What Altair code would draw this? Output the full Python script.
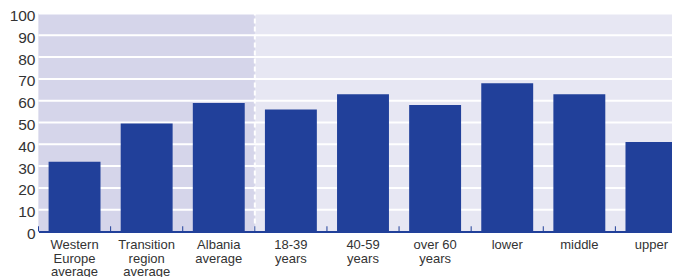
import altair as alt
import pandas as pd

categories = ["Western|Europe|average", "Transition|region|average", "Albania|average",
              "18-39|years", "40-59|years", "over 60|years", "lower", "middle", "upper"]
values = [32, 49.5, 59, 56, 63, 58, 68, 63, 41]
y_ticks = list(range(0, 101, 10))

df = pd.DataFrame({"cat": categories, "value": values})
grid_df = pd.DataFrame({"y": y_ticks})
shade_df = pd.DataFrame({"start": [categories[0]], "end": [categories[3]], "lo": [0], "hi": [100]})

BAR = "#21409A"
SHADE = "#D5D5EA"
# band range runs slightly past the visible plot edge, as in the (cropped) original
xscale = alt.Scale(domain=categories, paddingInner=0, paddingOuter=0, range=[0, 649])
yscale = alt.Scale(domain=[0, 100], nice=False)

xaxis = alt.Axis(title=None, labelExpr="split(datum.value, '|')", labelAngle=0,
                 labelFont="Liberation Sans", labelFontSize=13, labelColor="#333333",
                 labelLineHeight=13.5, labelPadding=7, ticks=False, domainColor=BAR,
                 domainWidth=2, grid=False, labelBaseline="top", labelOverlap=False)
yaxis = alt.Axis(title=None, values=y_ticks, labelFont="Liberation Sans", labelFontSize=15.5,
                 labelColor="#333333", labelPadding=3.5, labelOffset=2, ticks=False,
                 domain=False, grid=False, labelOverlap=False, labelFlush=False)

X = lambda f, **kw: alt.X(f, scale=xscale, axis=xaxis, sort=categories, title=None, **kw)
Y = lambda f: alt.Y(f, scale=yscale, axis=yaxis, title=None)

shade = alt.Chart(shade_df).mark_rect(color=SHADE).encode(
    x=X("start:N", bandPosition=0), x2=alt.X2("end:N", bandPosition=0), y=Y("lo:Q"), y2="hi:Q"
)

grid = alt.Chart(grid_df).transform_filter(alt.datum.y > 0).mark_rule(
    color="white", strokeWidth=2
).encode(y=Y("y:Q"))

sep = alt.Chart(df).transform_filter(alt.datum.cat == categories[3]).transform_calculate(
    zero="0", top="100"
).mark_rule(color="white", strokeWidth=2, strokeDash=[5, 3]).encode(
    x=X("cat:N", bandPosition=0), y=Y("zero:Q"), y2="top:Q"
)

bars = alt.Chart(df).mark_bar(color=BAR, width=alt.RelativeBandSize(0.72)).encode(
    x=X("cat:N"), y=Y("value:Q")
)

ticks = alt.Chart(df).transform_calculate(zero="0", tk="2.4").mark_rule(
    color=BAR, strokeWidth=1
).encode(x=X("cat:N", bandPosition=0), y=Y("zero:Q"), y2="tk:Q")

chart = alt.layer(shade, grid, sep, bars, ticks).properties(
    width=633.5, height=218,
    autosize=alt.AutoSizeParams(type="none"),
    padding={"left": 30.5, "top": 5.5, "right": 0, "bottom": 45},
).configure_view(stroke=None, fill="#E7E7F3")

chart.save("out.html", embed_options={"renderer": "svg", "actions": False})
